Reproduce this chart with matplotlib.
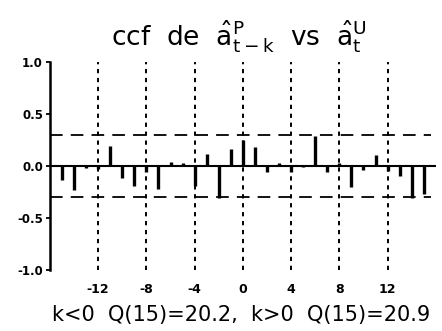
import matplotlib
matplotlib.use('Agg')
import matplotlib.pyplot as plt

plt.rcParams['font.family'] = ['DejaVu Sans']
plt.rcParams['mathtext.fontset'] = 'dejavusans'
plt.rcParams['mathtext.default'] = 'regular'
plt.rcParams['axes.unicode_minus'] = True

# lags and cross-correlation values
lags = list(range(-15, 16))
ccf = [-0.13, -0.23, -0.02, -0.03, 0.19, -0.12, -0.19, -0.06, -0.22, 0.04,
       0.03, -0.19, 0.12, -0.31, 0.16, 0.25, 0.18, -0.06, 0.03, -0.06,
       -0.01, 0.29, -0.06, 0.03, -0.20, -0.04, 0.11, -0.05, -0.10, -0.31,
       -0.27]
conf_band = 0.30
xtick_vals = [-12, -8, -4, 0, 4, 8, 12]
ytick_vals = [-1.0, -0.5, 0.0, 0.5, 1.0]

fig = plt.figure(figsize=(4.42, 3.31), dpi=100)
ax = fig.add_axes([0.113, 0.184, 0.873, 0.629])

# vertical reference lines
for xv in xtick_vals:
    ax.axvline(xv, color='black', lw=1.4, ls=(0, (2.2, 2.4)), zorder=1)

# confidence band
ax.hlines([conf_band, -conf_band], -16, 15.6, colors='black', lw=1.3,
          linestyles=(0, (7, 4.5)), zorder=1)
# zero line
ax.hlines(0, -16, 16, colors='black', lw=1.5, zorder=2)

# bars
ax.vlines(lags, 0, ccf, colors='black', lw=2.4, zorder=3)

ax.set_xlim(-16, 16)
ax.set_ylim(-1, 1)

for s in ['top', 'right', 'bottom']:
    ax.spines[s].set_visible(False)
ax.spines['left'].set_linewidth(1.8)

ax.set_yticks(ytick_vals)
ax.set_yticklabels([f'{v:.1f}' for v in ytick_vals], fontsize=8.5,
                   fontweight='bold')
ax.tick_params(axis='y', length=3, width=1.3, pad=2)
ax.set_xticks(xtick_vals)
ax.set_xticklabels([str(v) for v in xtick_vals], fontsize=9,
                   fontweight='bold')
ax.tick_params(axis='x', length=0, pad=9)

fig.text(0.54, 0.862, r'ccf  de  $\hat{a}^{P}_{t-k}$  vs  $\hat{a}^{U}_{t}$',
         ha='center', va='baseline', fontsize=19)
fig.text(0.545, 0.03, 'k<0  Q(15)=20.2,  k>0  Q(15)=20.9',
         ha='center', va='baseline', fontsize=15)

fig.savefig('out.png', dpi=100)
